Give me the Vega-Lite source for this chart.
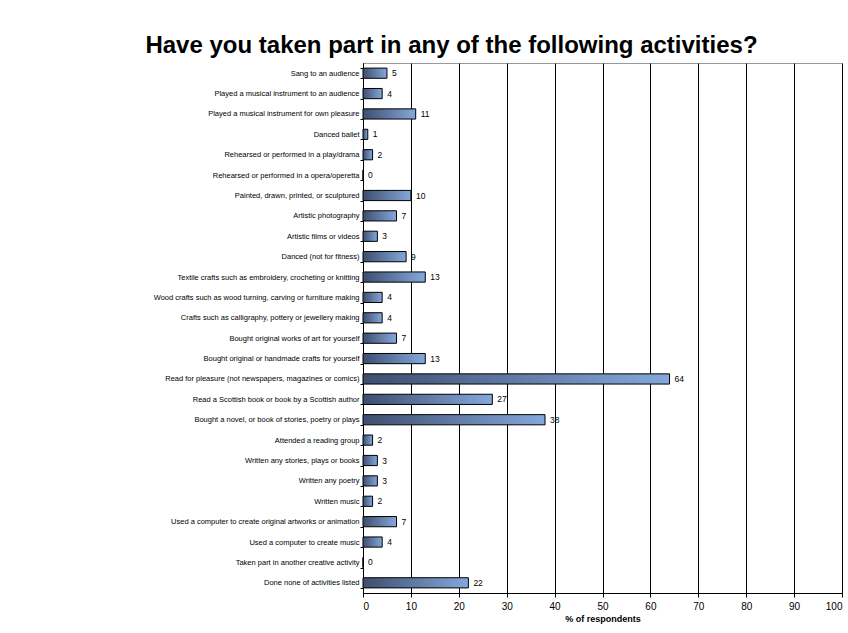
{
  "$schema": "https://vega.github.io/schema/vega-lite/v6.json",
  "width": 479,
  "height": 530,
  "autosize": "none",
  "padding": {"left": 363, "top": 63, "right": 6, "bottom": 40},
  "background": "white",
  "title": {
    "text": "Have you taken part in any of the following activities?",
    "font": "Liberation Sans",
    "fontSize": 24,
    "fontWeight": "bold",
    "color": "black",
    "anchor": "middle",
    "dx": -151,
    "offset": 1
  },
  "config": {
    "view": {"stroke": "#9a9a9a", "strokeWidth": 1},
    "font": "Liberation Sans"
  },
  "data": {
    "values": [
      {"activity": "Sang to an audience", "pct": 5},
      {"activity": "Played a musical instrument to an audience", "pct": 4},
      {"activity": "Played a musical instrument for own pleasure", "pct": 11},
      {"activity": "Danced ballet", "pct": 1},
      {"activity": "Rehearsed or performed in a play/drama", "pct": 2},
      {"activity": "Rehearsed or performed in a opera/operetta", "pct": 0},
      {"activity": "Painted, drawn, printed, or sculptured", "pct": 10},
      {"activity": "Artistic photography", "pct": 7},
      {"activity": "Artistic films or videos", "pct": 3},
      {"activity": "Danced (not for fitness)", "pct": 9},
      {"activity": "Textile crafts such as embroidery, crocheting or knitting", "pct": 13},
      {"activity": "Wood crafts such as wood turning, carving or furniture making", "pct": 4},
      {"activity": "Crafts such as calligraphy, pottery or jewellery making", "pct": 4},
      {"activity": "Bought original works of art for yourself", "pct": 7},
      {"activity": "Bought original or handmade crafts for yourself", "pct": 13},
      {"activity": "Read for pleasure (not newspapers, magazines or comics)", "pct": 64},
      {"activity": "Read a Scottish book or book by a Scottish author", "pct": 27},
      {"activity": "Bought a novel, or book of stories, poetry or plays", "pct": 38},
      {"activity": "Attended a reading group", "pct": 2},
      {"activity": "Written any stories, plays or books", "pct": 3},
      {"activity": "Written any poetry", "pct": 3},
      {"activity": "Written music", "pct": 2},
      {"activity": "Used a computer to create original artworks or animation", "pct": 7},
      {"activity": "Used a computer to create music", "pct": 4},
      {"activity": "Taken part in another creative activity", "pct": 0},
      {"activity": "Done none of activities listed", "pct": 22}
    ]
  },
  "encoding": {
    "y": {
      "field": "activity",
      "type": "nominal",
      "sort": null,
      "scale": {"paddingInner": 0.5, "paddingOuter": 0.25},
      "axis": {
        "title": null,
        "domainColor": "black",
        "tickColor": "black",
        "tickBand": "extent",
        "tickSize": 3,
        "labelPadding": 1,
        "labelFontSize": 7.5,
        "labelColor": "black",
        "labelFont": "Liberation Sans",
        "labelLimit": 400
      }
    },
    "x": {
      "field": "pct",
      "type": "quantitative",
      "scale": {"domain": [0, 100], "nice": false},
      "axis": {
        "title": "% of respondents",
        "titleFontSize": 9,
        "titleFontWeight": "bold",
        "titleColor": "black",
        "titlePadding": 3,
        "titleFont": "Liberation Sans",
        "values": [0, 10, 20, 30, 40, 50, 60, 70, 80, 90, 100],
        "labelFontSize": 10,
        "labelColor": "black",
        "labelFont": "Liberation Sans",
        "labelPadding": 4,
        "domainColor": "black",
        "tickColor": "black",
        "tickSize": 4,
        "grid": true,
        "gridColor": "black",
        "gridOpacity": 1,
        "gridWidth": 1
      }
    }
  },
  "layer": [
    {
      "mark": {
        "type": "bar",
        "stroke": "black",
        "strokeWidth": 1,
        "color": {
          "gradient": "linear",
          "x1": 0, "y1": 0, "x2": 1, "y2": 0,
          "stops": [
            {"offset": 0, "color": "#3e4e6e"},
            {"offset": 1, "color": "#84a8dc"}
          ]
        }
      }
    },
    {
      "mark": {
        "type": "text",
        "align": "left",
        "baseline": "middle",
        "dx": 5,
        "fontSize": 8.5,
        "font": "Liberation Sans",
        "color": "black"
      },
      "encoding": {"text": {"field": "pct", "type": "quantitative"}}
    }
  ]
}
